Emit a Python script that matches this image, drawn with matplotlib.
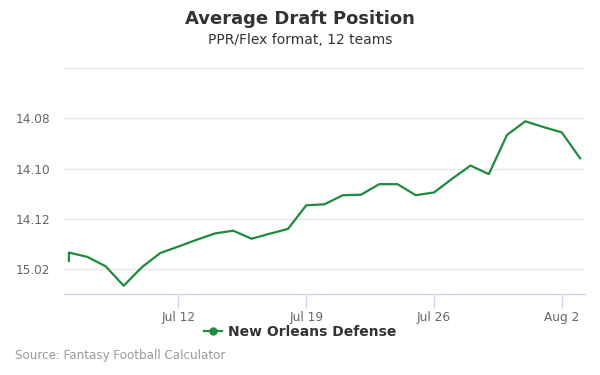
import matplotlib
matplotlib.use("Agg")
import matplotlib.pyplot as plt
import matplotlib.dates as mdates
from matplotlib.lines import Line2D
import datetime as dt

# Data: dates and average draft pick (overall pick number; 12-team league)
dates = ["2020-07-06", "2020-07-06"] + [
    "2020-07-07", "2020-07-08", "2020-07-09", "2020-07-10", "2020-07-11",
    "2020-07-12", "2020-07-13", "2020-07-14", "2020-07-15", "2020-07-16",
    "2020-07-17", "2020-07-18", "2020-07-19", "2020-07-20", "2020-07-21",
    "2020-07-22", "2020-07-23", "2020-07-24", "2020-07-25", "2020-07-26",
    "2020-07-27", "2020-07-28", "2020-07-29", "2020-07-30", "2020-07-31",
    "2020-08-01", "2020-08-02", "2020-08-03"]
picks = [169.67, 169.34, 169.51, 169.88, 170.66, 169.92, 169.36, 169.10,
         168.83, 168.58, 168.47, 168.79, 168.59, 168.40, 167.46, 167.42,
         167.06, 167.04, 166.62, 166.62, 167.06, 166.95, 166.40, 165.88,
         166.22, 164.66, 164.12, 164.35, 164.56, 165.59]
ytick_values = [162, 164, 166, 168, 170]
ytick_labels = ["", "14.08", "14.10", "14.12", "15.02"]
xtick_dates = ["2020-07-12", "2020-07-19", "2020-07-26", "2020-08-02"]
xtick_labels = ["Jul 12", "Jul 19", "Jul 26", "Aug 2"]
series_name = "New Orleans Defense"

x = [dt.datetime.strptime(d, "%Y-%m-%d") for d in dates]
x[0] = x[0] - dt.timedelta(minutes=1)
green = "#1e8b3c"

fig = plt.figure(figsize=(6, 3.75), dpi=100)
ax = fig.add_axes([64/600, 1-294.3/375, (585-64)/600, (294.3-68)/375])

ax.plot(x, picks, color=green, lw=1.6, solid_joinstyle="round", zorder=3)

ax.set_ylim(171, 162)
ax.set_yticks(ytick_values)
ax.set_yticklabels(ytick_labels)
xt = [dt.datetime.strptime(d, "%Y-%m-%d") for d in xtick_dates]
ax.set_xticks(xt)
ax.set_xticklabels(xtick_labels)
ax.set_xlim(x[1] - dt.timedelta(hours=6.5), x[-1] + dt.timedelta(hours=6.5))

ax.grid(axis="y", color="#e6e6e6", lw=1)
ax.set_axisbelow(True)
for s in ["top", "right", "left"]:
    ax.spines[s].set_visible(False)
ax.spines["bottom"].set_color("#ccd6eb")
ax.spines["bottom"].set_linewidth(1)
ax.tick_params(axis="x", colors="#ccd6eb", length=10, width=1, labelcolor="#666666", labelsize=8.7, pad=2)
ax.tick_params(axis="y", length=0, labelcolor="#666666", labelsize=8.7, pad=10)

fig.text(0.5, 1-19/375, "Average Draft Position", ha="center", va="center",
         fontsize=13, fontweight="bold", color="#333333")
fig.text(0.5, 1-40/375, "PPR/Flex format, 12 teams", ha="center", va="center",
         fontsize=10, color="#333333")

handle = Line2D([], [], color=green, lw=1.6, marker="o", markersize=5)
fig.legend([handle], [series_name], loc="center", bbox_to_anchor=(0.5, 1-332/375),
           frameon=False, prop={"weight": "bold", "size": 10}, labelcolor="#333333",
           handlelength=1.3, handletextpad=0.4)

fig.text(15/600, 1-355/375, "Source: Fantasy Football Calculator", ha="left", va="center",
         fontsize=8.6, color="#999999")

fig.savefig("out.png", dpi=100)
